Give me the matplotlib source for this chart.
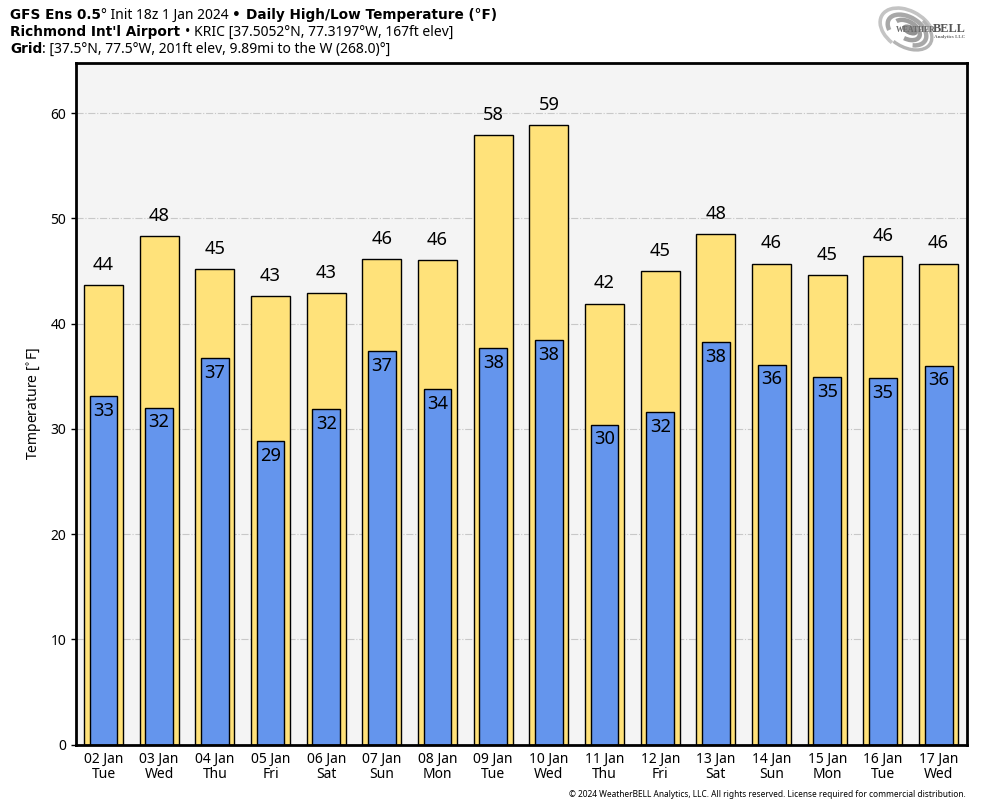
import numpy as np
import matplotlib as mpl
mpl.use('Agg')
import matplotlib.pyplot as plt
from matplotlib.patches import Arc, Ellipse

mpl.rcParams['font.family'] = ['Noto Sans', 'DejaVu Sans']

dates = ['02 Jan', '03 Jan', '04 Jan', '05 Jan', '06 Jan', '07 Jan', '08 Jan', '09 Jan',
         '10 Jan', '11 Jan', '12 Jan', '13 Jan', '14 Jan', '15 Jan', '16 Jan', '17 Jan']
days = ['Tue', 'Wed', 'Thu', 'Fri', 'Sat', 'Sun', 'Mon', 'Tue',
        'Wed', 'Thu', 'Fri', 'Sat', 'Sun', 'Mon', 'Tue', 'Wed']
highs = [43.7, 48.3, 45.2, 42.6, 42.9, 46.1, 46.0, 57.9,
         58.9, 41.9, 45.0, 48.5, 45.7, 44.6, 46.4, 45.7]
lows = [33.1, 32.0, 36.7, 28.8, 31.9, 37.4, 33.8, 37.7,
        38.4, 30.4, 31.6, 38.2, 36.1, 34.9, 34.8, 36.0]

W, H = 984, 808
fig = plt.figure(figsize=(W / 100, H / 100), dpi=100)
ax = fig.add_axes([76 / W, 1 - 744.5 / H, (967 - 76) / W, (744.5 - 62.5) / H])
ax.set_facecolor('#f4f4f4')

x = np.arange(len(dates))
ax.bar(x, highs, width=0.7, color='#ffe27a', edgecolor='black', linewidth=1, zorder=3)
ax.bar(x, lows, width=0.5, color='#6495ed', edgecolor='black', linewidth=1, zorder=4)

for i in x:
    ax.text(i, highs[i] + 1.05, '%d' % round(highs[i]), ha='center', va='bottom', fontsize=13.2, zorder=5)
    ax.text(i, lows[i] - 0.55, '%d' % round(lows[i]), ha='center', va='top', fontsize=13.2, zorder=5)

ax.set_xlim(-0.494, 15.51)
ax.set_ylim(0, 64.8)
ax.set_yticks([0, 10, 20, 30, 40, 50, 60])
ax.set_xticks(x)
ax.set_xticklabels(['%s\n%s' % (d, w) for d, w in zip(dates, days)], fontsize=10, linespacing=1.08)
ax.tick_params(axis='y', labelsize=10, length=3.5, width=1)
ax.tick_params(axis='x', length=0, pad=5)
ax.grid(axis='y', color='#c8c8c8', linestyle='-.', linewidth=0.8, zorder=1)
ax.set_axisbelow(True)
ax.set_ylabel('Temperature [$^{\\circ}$F]', fontsize=10, labelpad=5)
for s in ax.spines.values():
    s.set_linewidth(2)
    s.set_zorder(10)


def header(y, parts):
    # pieces of mixed weight, placed one after the other
    px = 10
    r = fig.canvas.get_renderer()
    for txt, bold in parts:
        t = fig.text(px / W, 1 - y / H, txt, va='baseline', ha='left',
                     fontsize=9.8 if bold else 10,
                     family=['DejaVu Sans'] if bold else ['Noto Sans'],
                     fontweight='bold' if bold else 'normal')
        px += t.get_window_extent(r).width


header(19, [('GFS Ens 0.5', True), ('° Init 18z 1 Jan 2024 ', False), ('• ', True),
            ('Daily High/Low Temperature (°F)', True)])
header(36, [("Richmond Int'l Airport ", True), ('• KRIC [37.5052°N, 77.3197°W, 167ft elev]', False)])
header(53, [('Grid', True), (': [37.5°N, 77.5°W, 201ft elev, 9.89mi to the W (268.0)°]', False)])

fig.text(966 / W, 1 - 794.5 / H,
         '© 2024 WeatherBELL Analytics, LLC. All rights reserved. License required for commercial distribution.',
         fontsize=6.0, ha='right', va='center')

# logo, top right
lg = fig.add_axes([876 / W, 1 - 56 / H, 94 / W, 50 / H])
lg.set_xlim(876, 970)
lg.set_ylim(56, 6)
lg.axis('off')
swirls = [(58, 38, 30, 110, 330, '#c4c4c4', 2.6), (54, 34, 30, 300, 470, '#b4b4b4', 2.4),
          (42, 26, 30, 150, 400, '#a8a8a8', 3.2), (28, 17, 30, 190, 440, '#a0a0a0', 3.2)]
for w, h, a, t1, t2, c, lw in swirls:
    lg.add_patch(Arc((907, 30), w, h, angle=a, theta1=t1, theta2=t2, edgecolor=c, linewidth=lw))
lg.add_patch(Ellipse((910, 30), 15, 8, angle=25, color='#909090'))
lg.text(896, 30, 'WEATHER', fontsize=5.6, family='Liberation Serif', fontweight='bold',
        color='#6a6a6a', va='center')
lg.text(966, 29.5, 'BELL', fontsize=8.8, family='Liberation Serif', fontweight='bold',
        color='#555555', va='center', ha='right')
lg.text(965, 37, 'Analytics LLC', fontsize=3.6, family='Liberation Serif', fontweight='bold',
        color='#666666', va='center', ha='right')

fig.savefig('out.png', dpi=100)
